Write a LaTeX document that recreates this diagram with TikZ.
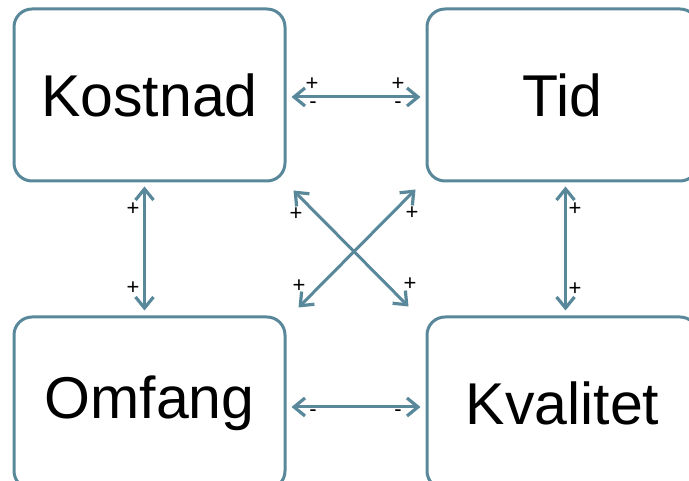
\documentclass[tikz,border=0pt]{standalone}
\usepackage{fontspec}
\setmainfont{Liberation Sans}
\usetikzlibrary{arrows.meta,calc}
\definecolor{linkblue}{RGB}{88,136,153}
\tikzset{
  factor/.style={draw=linkblue, line width=3pt, rounded corners=18pt,
    minimum width=271pt, minimum height=172pt, inner sep=0pt,
    font=\fontsize{59}{60}\selectfont},
  barb/.tip={Straight Barb[length=11pt,width=18pt,line width=3.2pt]},
  link/.style={draw=linkblue, line width=3pt, barb-barb},
  sign/.style={inner sep=0pt, text height=0.6em, text depth=0pt,
    font=\fontsize{22}{22}\selectfont}
}
\begin{document}
\begin{tikzpicture}[x=1pt,y=-1pt]
  \useasboundingbox (0,0) rectangle (689,481);
  \clip (0,0) rectangle (689,481);
  % four project factors
  \node[factor] (kost) at (149.5,95) {Kostnad};
  \node[factor] (tid)  at (562.5,95) {Tid};
  \node[factor] (omf)  at (149.5,403) {Omfang};
  \node[factor] (kval) at (562.5,403) {Kvalitet};
  % relations between the factors
  \draw[link] ([shift={(5,2)}]kost.east) -- ([shift={(-5,2)}]tid.west);
  \draw[link] ([shift={(5,4)}]omf.east) -- ([shift={(-5,4)}]kval.west);
  \draw[link] ([shift={(-5,4)}]kost.south) -- ([shift={(-5,-5)}]omf.north);
  \draw[link] ([shift={(3,4)}]tid.south) -- ([shift={(3,-5)}]kval.north);
  \draw[link] ([shift={(7,8)}]kost.south east) -- ([shift={(-17,-9)}]kval.north west);
  \draw[link] ([shift={(12,-8)}]omf.north east) -- ([shift={(-10,7)}]tid.south west);
  % signs
  \node[sign] (s1) at (312,88) {+};
  \node[sign] (s2) at (398,88) {+};
  \node[sign] (s3) at (313,106) {-};
  \node[sign] (s4) at (398,106) {-};
  \node[sign] (s5) at (313,414) {-};
  \node[sign] (s6) at (398,414) {-};
  \node[sign] (s7) at (133,213) {+};
  \node[sign] (s8) at (133,292) {+};
  \node[sign] (s9) at (575,213) {+};
  \node[sign] (s10) at (575,293) {+};
  \node[sign] (s11) at (296,218) {+};
  \node[sign] (s12) at (412,217) {+};
  \node[sign] (s13) at (299,290) {+};
  \node[sign] (s14) at (410,288) {+};
\end{tikzpicture}
\end{document}
